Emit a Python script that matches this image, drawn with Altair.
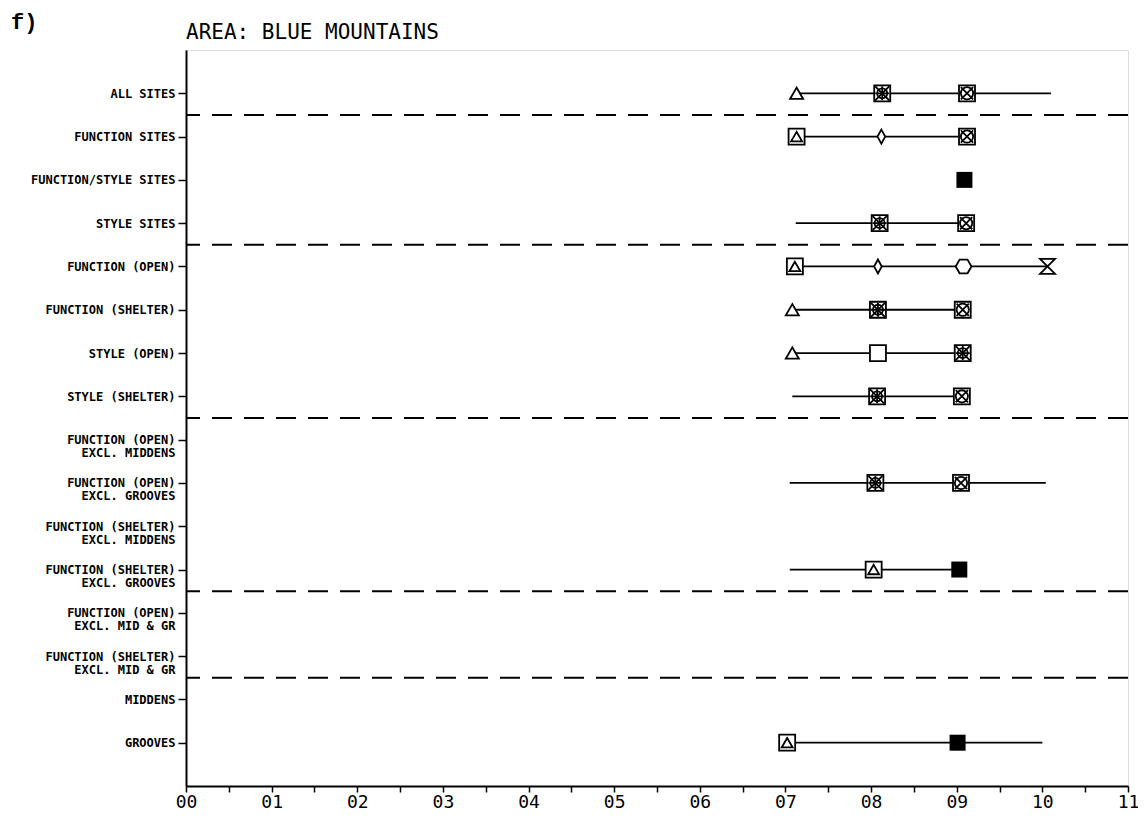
import json
import altair as alt
import pandas as pd

# ---- categories (top to bottom), "\n" marks a second label line ----
categories = [
    "ALL SITES",
    "FUNCTION SITES",
    "FUNCTION/STYLE SITES",
    "STYLE SITES",
    "FUNCTION (OPEN)",
    "FUNCTION (SHELTER)",
    "STYLE (OPEN)",
    "STYLE (SHELTER)",
    "FUNCTION (OPEN)\nEXCL. MIDDENS",
    "FUNCTION (OPEN)\nEXCL. GROOVES",
    "FUNCTION (SHELTER)\nEXCL. MIDDENS",
    "FUNCTION (SHELTER)\nEXCL. GROOVES",
    "FUNCTION (OPEN)\nEXCL. MID & GR",
    "FUNCTION (SHELTER)\nEXCL. MID & GR",
    "MIDDENS",
    "GROOVES",
]

# group separators (between category rows)
separators = [1.5, 4.5, 8.5, 12.5, 14.5]

# ---- range lines ----
range_row = [1, 2, 4, 5, 6, 7, 8, 10, 12, 16]
range_lo = [0.713, 0.713, 0.712, 0.711, 0.708, 0.708, 0.708, 0.705, 0.705, 0.702]
range_hi = [1.010, 0.912, 0.911, 1.006, 0.907, 0.907, 0.906, 1.004, 0.903, 1.000]

# ---- plotted symbols ----
pt_row = [1, 1, 1, 2, 2, 2, 3, 4, 4, 5, 5, 5, 5, 6, 6, 6, 7, 7, 7, 8, 8, 10, 10, 12, 12, 16, 16]
pt_x = [0.713, 0.813, 0.912, 0.713, 0.812, 0.912, 0.909, 0.810, 0.911,
        0.711, 0.808, 0.908, 1.006, 0.708, 0.808, 0.907, 0.708, 0.808, 0.907,
        0.807, 0.906, 0.805, 0.905, 0.803, 0.903, 0.702, 0.901]
pt_glyph = ["tri", "A", "B", "C", "D", "B", "E", "A", "B",
            "C", "D", "G", "H", "tri", "A", "B", "tri", "I", "A",
            "A", "B", "A", "B", "C", "E", "C", "E"]

x_ticks = [round(i * 0.05, 2) for i in range(23)]

title_text = "AREA: BLUE MOUNTAINS"
panel_tag = "f)"

# ---- glyph construction (style) ----
glyph_parts = {
    "tri": [("tri", 170, False)],
    "A": [("sq", 256, False), ("circ", 100, False), ("x", 196, False), ("plus", 196, False)],
    "B": [("sq", 256, False), ("circ", 150, False), ("x", 150, False)],
    "C": [("sq", 256, False), ("tri", 120, False)],
    "D": [("dia", 196, False)],
    "E": [("sq", 256, True)],
    "G": [("hex", 250, False)],
    "H": [("hour", 225, False)],
    "I": [("sq", 256, False)],
}
shape_domain = ["sq", "tri", "circ", "x", "plus", "dia", "hex", "hour"]
shape_range = [
    "square",
    "triangle-up",
    "circle",
    "M-1,-1L1,1M-1,1L1,-1",
    "M-1,0L1,0M0,-1L0,1",
    "M0,-1L0.55,0L0,1L-0.55,0Z",
    "M-1,0L-0.5,-0.866L0.5,-0.866L1,0L0.5,0.866L-0.5,0.866Z",
    "M-1,-1L1,-1L-1,1L1,1Z",
]

rows = []
for r, x, g in zip(pt_row, pt_x, pt_glyph):
    for comp, sz, filled in glyph_parts[g]:
        rows.append({"row": r, "x": x, "comp": comp, "sz": sz, "filled": filled})
pts = pd.DataFrame(rows)

ranges = pd.DataFrame({"row": range_row, "lo": range_lo, "hi": range_hi})
seps = pd.DataFrame({"y": separators})

label_lines = [c.split("\n") for c in categories]
y_label_expr = json.dumps(label_lines) + "[round(datum.value) - 1]"

x_scale = alt.Scale(domain=[0, 1.1], nice=False, zero=False)
y_scale = alt.Scale(domain=[0, len(categories) + 1], reverse=True, nice=False, zero=False)

x_axis = alt.Axis(
    values=x_ticks,
    labelExpr="abs(datum.value*10 - round(datum.value*10)) < 0.01 ? replace(format(datum.value, '.1f'), '.', '') : ''",
    grid=False, title=None, labelOverlap=False, labelFlush=False,
    tickSize=6, tickWidth=1.5, tickColor="black", domainColor="black", domainWidth=2,
    labelFont="DejaVu Sans Mono", labelFontSize=18, labelColor="black", labelPadding=1,
)
y_axis = alt.Axis(
    values=list(range(1, len(categories) + 1)),
    labelExpr=y_label_expr,
    grid=False, title=None, labelOverlap=False, labelFlush=False,
    tickSize=8, tickWidth=1.5, tickColor="black", domainColor="black", domainWidth=2,
    labelFont="DejaVu Sans Mono", labelFontSize=12, labelFontWeight="bold",
    labelColor="black", labelPadding=3, labelLineHeight=13,
)

lines = alt.Chart(ranges).mark_rule(color="black", strokeWidth=1.8).encode(
    x=alt.X("lo:Q", scale=x_scale, axis=x_axis),
    x2="hi:Q",
    y=alt.Y("row:Q", scale=y_scale, axis=y_axis),
)

dashes = alt.Chart(seps).mark_rule(color="black", strokeWidth=2, strokeDash=[20, 12]).encode(
    y=alt.Y("y:Q", scale=y_scale),
)

shape_enc = alt.Shape("comp:N", scale=alt.Scale(domain=shape_domain, range=shape_range), legend=None)

open_pts = alt.Chart(pts).transform_filter("!datum.filled").mark_point(
    filled=False, fill="white", stroke="black", strokeWidth=1.8, opacity=1
).encode(
    x=alt.X("x:Q", scale=x_scale),
    y=alt.Y("row:Q", scale=y_scale),
    shape=shape_enc,
    size=alt.Size("sz:Q", scale=None),
)

filled_pts = alt.Chart(pts).transform_filter("datum.filled").mark_point(
    filled=True, color="black", opacity=1
).encode(
    x=alt.X("x:Q", scale=x_scale),
    y=alt.Y("row:Q", scale=y_scale),
    shape=shape_enc,
    size=alt.Size("sz:Q", scale=None),
)

tag = alt.Chart(pd.DataFrame({"t": [panel_tag]})).mark_text(
    font="Liberation Mono", fontSize=22, fontWeight="bold", align="left", baseline="middle", color="black"
).encode(text="t:N", x=alt.value(-175), y=alt.value(-28))

title = alt.Chart(pd.DataFrame({"t": [title_text]})).mark_text(
    font="DejaVu Sans Mono", fontSize=21, align="left", baseline="middle", color="black"
).encode(text="t:N", x=alt.value(0), y=alt.value(-17))

chart = alt.layer(dashes, lines, open_pts, filled_pts, tag, title).properties(
    width=942,
    height=736,
    autosize=alt.AutoSizeParams(type="none"),
    padding={"left": 178, "top": 42, "right": 10, "bottom": 30},
).configure_view(stroke="black", strokeWidth=2).configure(background="white")

chart.save("out.html", embed_options={"renderer": "svg", "actions": False})
